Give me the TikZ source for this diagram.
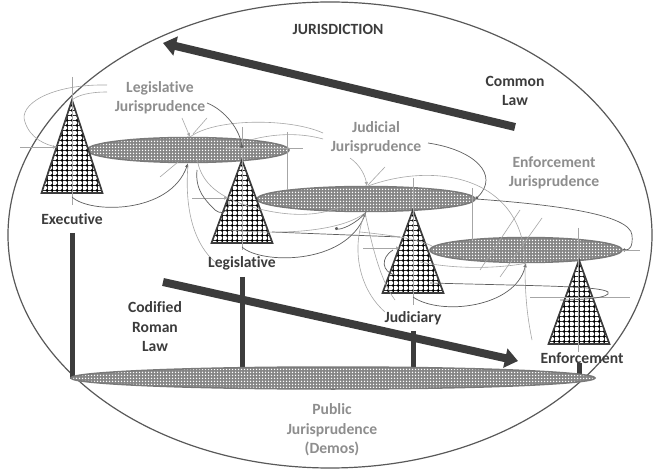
\documentclass[tikz,border=0pt]{standalone}
\usepackage{fontspec}
\setmainfont{Carlito}[Ligatures=NoCommon]
\usetikzlibrary{patterns,arrows.meta,shapes.geometric}
\definecolor{dk}{HTML}{3C3C3C}
\definecolor{lbl}{HTML}{8E8E8E}
\definecolor{thin}{HTML}{A6A6A6}
\definecolor{thind}{HTML}{5E5E5E}
\definecolor{efill}{HTML}{868686}
\definecolor{edraw}{HTML}{7A7A7A}
\pgfdeclarepatterninherentlycolored{elldots}{\pgfpoint{-.1pt}{-.1pt}}{\pgfpoint{3.1pt}{3.1pt}}{\pgfpoint{3pt}{3pt}}{%
  \pgfsetfillcolor{efill}\pgfpathrectangle{\pgfpoint{-.1pt}{-.1pt}}{\pgfpoint{3.2pt}{3.2pt}}\pgfusepath{fill}%
  \pgfsetfillcolor{white}\pgfpathcircle{\pgfpoint{1.5pt}{1.5pt}}{0.75pt}\pgfusepath{fill}}
\tikzset{
  ellsty/.style={shape=ellipse, inner sep=0pt, pattern=elldots, draw=edraw, line width=1.5pt},
  triedge/.style={draw=dk, line width=1.7pt, line join=miter},
  gridl/.style={draw=black!80, line width=0.6pt},
  thinl/.style={draw=thin, line width=0.6pt},
  thind/.style={draw=thind, line width=0.7pt},
  sarr/.style={-{Latex[length=4pt,width=3.5pt]}},
  sdot/.style={-{Circle[length=3.2pt]}},
  bar/.style={draw=dk, line width=5pt},
  bigarrow/.style={draw=dk, line width=8pt, -{Triangle[length=13pt,width=19pt]}},
  lab/.style={font=\fontsize{15.6}{19.5}\selectfont\bfseries, text=dk, align=center, inner sep=0pt},
  glab/.style={font=\fontsize{15.6}{19.5}\selectfont\bfseries, text=lbl, align=center, inner sep=0pt}
}
% dotted-grid triangle: apex x, apex y, base y
\newcommand{\dottri}[3]{%
  \begin{scope}
    \clip (#1,#2) -- (#1+30.5,#3) -- (#1-30.5,#3) -- cycle;
    \fill[white] (#1-31,#2) rectangle (#1+31,#3);
    \foreach \k in {-6,...,6} {\draw[gridl] (#1+\k*5,#2) -- (#1+\k*5,#3);}
    \foreach \k in {0,...,20} {\draw[gridl] (#1-31,#3-2.5-\k*5) -- (#1+31,#3-2.5-\k*5);}
    \foreach \i in {-6,...,6} {\foreach \j in {0,...,20} {\fill[black] (#1+\i*5,#3-2.5-\j*5) circle (1.5pt);}}
  \end{scope}
  \draw[triedge] (#1,#2) -- (#1+30.5,#3) -- (#1-30.5,#3) -- cycle;}
\begin{document}
\begin{tikzpicture}[x=1pt,y=-1pt]
\useasboundingbox (0,0) rectangle (656,470);
\fill[white] (0,0) rectangle (656,470);
% outer jurisdiction ellipse
\draw[draw=dk!85, line width=1.2pt] (330,235) ellipse [x radius=322, y radius=233];
% vertical bars
\coordinate (b1t) at (72,233); \coordinate (b1b) at (72,379);
\coordinate (b2t) at (242,277); \coordinate (b2b) at (242,378);
\coordinate (b3t) at (413,331); \coordinate (b3b) at (413,372);
\coordinate (b4t) at (579,363); \coordinate (b4b) at (579,376);
\draw[bar] (b1t) -- (b1b);
\draw[bar] (b2t) -- (b2b);
\draw[bar] (b3t) -- (b3b);
\draw[bar] (b4t) -- (b4b);
% public jurisprudence ellipse
\node[ellsty, minimum width=524pt, minimum height=22pt] (demos) at (333,378) {};
% jurisprudence ellipses
\node[ellsty, minimum width=202pt, minimum height=25pt] (e1) at (188,150) {};
\node[ellsty, minimum width=218pt, minimum height=25pt] (e2) at (366,199) {};
\node[ellsty, minimum width=192pt, minimum height=25pt] (e3) at (526,250) {};
% triangles
\coordinate (t1) at (72,100); \coordinate (t2) at (242,160);
\coordinate (t3) at (413,210); \coordinate (t4) at (580,260);
\dottri{72}{100}{193}
\dottri{242}{160}{243}
\dottri{413}{210}{293}
\dottri{579}{260}{344}
% big arrows
\coordinate (cl1) at (515,127); \coordinate (cl2) at (163,43);
\coordinate (rl1) at (163,282); \coordinate (rl2) at (518,361);
\draw[bigarrow] (cl1) -- (cl2);
\draw[bigarrow] (rl1) -- (rl2);
% thin connector web: level 1
\draw[thinl] (72,77) -- (72,205);
\draw[thinl,sarr] (20,147) -- (57,147);
\draw[thinl] (107,85) .. controls (50,84) and (18,105) .. (25,122) .. controls (30,138) and (45,145) .. (57,147);
\draw[thinl] (107,92) .. controls (90,92) and (78,95) .. (t1);
\draw[thind,sarr] (72,197) .. controls (90,214) and (170,214) .. (e1.south);
\draw[thinl] (160,177) -- (178,162);
\draw[thinl,sarr] (182,118) -- (190,137);
\draw[thinl] (207,118) -- (193,134);
\draw[thinl] (190,137) .. controls (215,118) and (290,118) .. (323,133);
\draw[thinl] (250,140) .. controls (280,132) and (305,134) .. (323,139);
\draw[thinl] (197,158) .. controls (200,180) and (215,195) .. (245,205) .. controls (300,222) and (330,212) .. (345,205);
% level 2
\draw[thinl] (242,127) -- (242,250);
\draw[thind,sdot] (207,103) .. controls (225,110) and (240,130) .. (242,148);
\draw[thinl] (225,148) -- (303,148);
\draw[thinl] (287,132) -- (287,190);
\draw[thinl,sarr] (192,198) -- (228,198);
\draw[thind,sarr] (242,247) .. controls (260,264) and (345,266) .. (e2.south);
\draw[thinl] (188,165) .. controls (185,200) and (190,240) .. (215,262);
\draw[thind] (197,170) .. controls (195,190) and (205,200) .. (215,210) .. controls (225,218) and (232,205) .. (228,198);
\draw[thind] (272,232) -- (400,237);
\draw[thinl] (230,230) .. controls (280,235) and (340,232) .. (365,213);
% level 3
\draw[thinl] (413,178) -- (413,305);
\draw[thinl,sarr] (363,248) -- (400,248);
\draw[thind,sdot] (428,143) .. controls (475,150) and (500,175) .. (e2.east);
\draw[thinl] (472,188) -- (472,240);
\draw[thinl,sarr] (350,158) .. controls (360,165) and (365,175) .. (367,186);
\draw[thinl] (385,167) -- (368,185);
\draw[thind,sdot] (e2.south) .. controls (355,225) and (340,230) .. (335,228);
\draw[thinl] (365,213) .. controls (372,245) and (380,280) .. (395,300);
\draw[thinl] (365,213) .. controls (350,250) and (360,290) .. (385,312);
\draw[thind] (393,250) .. controls (380,258) and (382,272) .. (395,275);
\draw[thind,sarr] (413,297) .. controls (440,316) and (515,308) .. (e3.south);
\draw[thinl] (368,186) .. controls (440,160) and (525,180) .. (525,265) .. controls (525,300) and (528,320) .. (532,340);
\draw[thinl] (360,232) .. controls (400,236) and (420,240) .. (432,246);
% level 4
\draw[thinl] (578,228) -- (578,352);
\draw[thinl] (530,297) -- (630,297);
\draw[thind] (430,283) .. controls (540,286) and (600,286) .. (608,292) .. controls (612,298) and (580,300) .. (560,300);
\draw[thind,sdot] (e2.east) .. controls (560,205) and (630,215) .. (632,235) .. controls (633,246) and (630,250) .. (e3.east);
\draw[thinl] (e3.east) -- (640,250);
\draw[thinl] (480,270) -- (520,210);
\draw[thinl] (500,277) -- (542,218);
\draw[thinl] (420,262) .. controls (460,270) and (500,268) .. (e3.south);
% labels
\node[lab] (jur) at (338,29) {JURISDICTION};
\node[lab] (cl) at (515,91) {Common\\Law};
\node[glab] (lj) at (160,98) {Legislative\\Jurisprudence};
\node[glab] (jj) at (376,138) {Judicial\\Jurisprudence};
\node[glab] (ej) at (554,173) {Enforcement\\Jurisprudence};
\node[lab] (ex) at (72,219) {Executive};
\node[lab] (lg) at (242,263) {Legislative};
\node[lab] (jd) at (413,318) {Judiciary};
\node[lab] (en) at (582,358) {Enforcement};
\node[lab] (crl) at (155,327) {Codified\\Roman\\Law};
\node[glab] (pj) at (332,430) {Public\\Jurisprudence\\(Demos)};
\end{tikzpicture}
\end{document}
